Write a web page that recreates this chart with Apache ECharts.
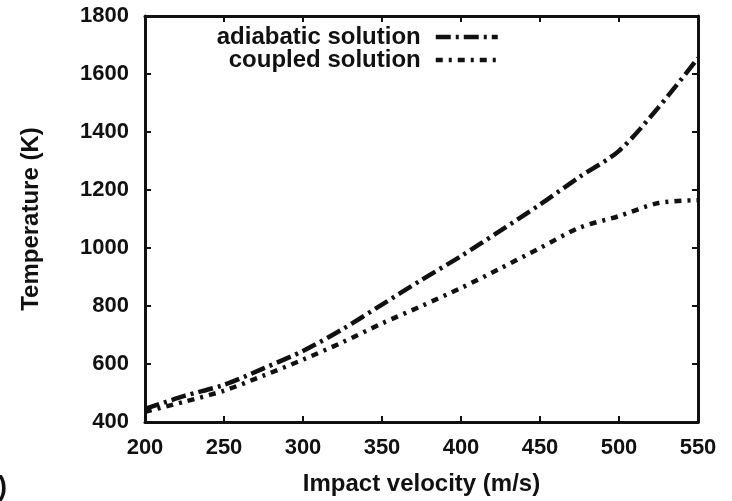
<!DOCTYPE html>
<html>
<head>
<meta charset="utf-8">
<script src="https://cdn.jsdelivr.net/npm/echarts@6/dist/echarts.min.js"></script>
<style>
  html, body { margin: 0; padding: 0; background: #fff; }
  #chart { width: 732px; height: 501px; }
</style>
</head>
<body>
<div id="chart"></div>
<script>
// Impact velocity (m/s) vs temperature (K)
const velocity = [200, 225, 250, 275, 300, 325, 350, 375, 400, 425, 450, 475, 500, 525, 550];
const adiabatic = [445, 490, 528, 585, 645, 720, 805, 890, 972, 1060, 1150, 1245, 1335, 1485, 1655];
const coupled = [435, 470, 508, 560, 615, 675, 740, 800, 862, 930, 1000, 1070, 1110, 1155, 1165];
const seriesNames = ["adiabatic solution", "coupled solution"];

const FONT = "Liberation Sans";
const INK = "#111";
const DASHES = [[15, 5, 3, 5], [7, 6, 3, 6]];

const chart = echarts.init(document.getElementById("chart"));

const pairs = vals => velocity.map((v, i) => [v, vals[i]]);

// gnuplot style: inward ticks mirrored on all four sides
const tickStyle = { show: true, inside: true, length: 6, lineStyle: { color: INK, width: 2 } };
const axisLine = { show: true, onZero: false, lineStyle: { color: INK, width: 3 } };
const labelFont = { fontFamily: FONT, fontSize: 22, fontWeight: "bold", color: INK };

chart.setOption({
  backgroundColor: "#fff",
  animation: false,
  title: {
    text: ")",
    left: -2,
    top: 474,
    padding: 0,
    textStyle: { fontFamily: FONT, fontSize: 27, fontWeight: "bold", color: INK },
  },
  grid: { left: 145, right: 34, top: 16, bottom: 79 },
  legend: seriesNames.map((name, i) => ({
    data: [name],
    left: "auto",
    right: 232,
    top: 25 + i * 23,
    bottom: "auto",
    align: "right",
    padding: 0,
    itemWidth: 62,
    itemHeight: 14,
    itemStyle: { opacity: 0 },
    lineStyle: { color: INK, width: 4.5, type: DASHES[i], opacity: 1 },
    textStyle: { fontFamily: FONT, fontSize: 24, fontWeight: "bold", color: INK, padding: [0, 10, 0, 0] },
  })),
  xAxis: [
    {
      type: "value", min: 200, max: 550, interval: 50,
      name: "Impact velocity (m/s)", nameLocation: "middle", nameGap: 50, nameMoveOverlap: false,
      nameTextStyle: Object.assign({}, labelFont, { fontSize: 24, verticalAlign: "top" }),
      axisLine, axisTick: tickStyle, splitLine: { show: false },
      axisLabel: Object.assign({ margin: 15, formatter: v => String(v) }, labelFont),
    },
    {
      type: "value", position: "top", min: 200, max: 550, interval: 50,
      axisLine, axisTick: tickStyle, splitLine: { show: false }, axisLabel: { show: false },
    },
  ],
  yAxis: [
    {
      type: "value", min: 400, max: 1800, interval: 200,
      name: "Temperature (K)", nameLocation: "middle", nameGap: 102, nameMoveOverlap: false,
      nameTextStyle: Object.assign({}, labelFont, { fontSize: 24 }),
      axisLine, axisTick: tickStyle, splitLine: { show: false },
      axisLabel: Object.assign({ margin: 16, formatter: v => String(v) }, labelFont),
    },
    {
      type: "value", position: "right", min: 400, max: 1800, interval: 200,
      axisLine, axisTick: tickStyle, splitLine: { show: false }, axisLabel: { show: false },
    },
  ],
  series: [
    {
      name: seriesNames[0], type: "line", data: pairs(adiabatic),
      showSymbol: false, symbol: "none", smooth: 0.3,
      lineStyle: { color: INK, width: 4.5, type: DASHES[0] },
      itemStyle: { color: INK },
    },
    {
      name: seriesNames[1], type: "line", data: pairs(coupled),
      showSymbol: false, symbol: "none", smooth: 0.3,
      lineStyle: { color: INK, width: 4.5, type: DASHES[1] },
      itemStyle: { color: INK },
    },
  ],
});
</script>
</body>
</html>
